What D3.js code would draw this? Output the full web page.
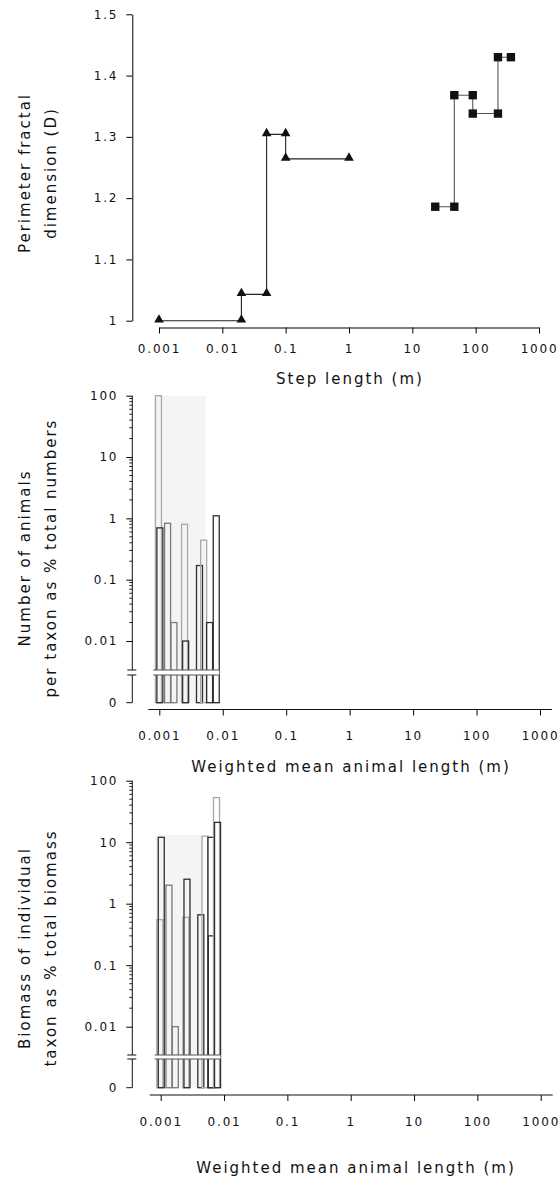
<!DOCTYPE html>
<html>
<head>
<meta charset="utf-8">
<script src="https://cdn.jsdelivr.net/npm/d3@7"></script>
<style>
body { margin: 0; background: #fff; }
text { font-family: "DejaVu Sans", sans-serif; fill: #111; }
.tick text { font-size: 12px; letter-spacing: 1.8px; }
.title { font-size: 15px; letter-spacing: 2px; }
</style>
</head>
<body>
<script>
// top panel: perimeter fractal dimension vs step length
var stepTri = [0.001, 0.02, 0.02, 0.05, 0.05, 0.1, 0.1, 1];
var dimTri = [1.0, 1.0, 1.043, 1.043, 1.304, 1.304, 1.264, 1.264];
var stepSq = [23, 46, 46, 90, 90, 225, 225, 360];
var dimSq = [1.186, 1.186, 1.368, 1.368, 1.338, 1.338, 1.43, 1.43];

// taxa: weighted mean length (m), % of numbers, % of biomass, shade group
var taxonLength = [0.00097, 0.00102, 0.00135, 0.0017, 0.0025, 0.0026, 0.0043, 0.0050, 0.0062, 0.0063, 0.0076, 0.0079];
var pctNumbers = [100, 0.7, 0.83, 0.02, 0.8, 0.01, 0.17, 0.44, 0.02, 0, 0, 1.1];
var pctBiomass = [0.55, 12, 2, 0.01, 0.6, 2.5, 0.66, 12.5, 12, 0.3, 53, 21];
var taxonGroup = ["light", "dark", "mid", "mid", "light", "dark", "dark", "light", "dark", "dark", "light", "dark"];

var xTicks = [0.001, 0.01, 0.1, 1, 10, 100, 1000];
var dimTicks = [1, 1.1, 1.2, 1.3, 1.4, 1.5];
var pctTicks = [0.01, 0.1, 1, 10, 100];

var width = 560, height = 1179;
var axisX = 132.3;
var barWidth = 6;

var shade = d3.scaleOrdinal()
    .domain(["light", "mid", "dark"])
    .range(["#a8a8a8", "#7a7a7a", "#2e2e2e"]);

var svg = d3.select("body").append("svg")
    .attr("width", width)
    .attr("height", height);

var fmt = d3.format("~g");

function yTitle(lines, cy) {
    lines.forEach(function(t, i) {
        svg.append("text")
            .attr("class", "title")
            .attr("transform", "translate(" + (30 + i * 26) + "," + cy + ") rotate(-90)")
            .attr("text-anchor", "middle")
            .text(t);
    });
}

function xTitle(t, cx, y) {
    svg.append("text")
        .attr("class", "title")
        .attr("x", cx)
        .attr("y", y)
        .attr("text-anchor", "middle")
        .text(t);
}

// ---------- panel 1 ----------
var x1 = d3.scaleLog().domain([0.001, 1000]).range([159, 539]);
var y1 = d3.scaleLinear().domain([1, 1.5]).range([320.7, 14.3]);

svg.append("g")
    .attr("transform", "translate(" + axisX + ",0)")
    .call(d3.axisLeft(y1).tickValues(dimTicks).tickSize(6).tickPadding(8).tickSizeOuter(0)
        .tickFormat(function(d) { return d === 1 ? "1" : d.toFixed(1); }));

svg.append("g")
    .attr("transform", "translate(0,327.5)")
    .call(d3.axisBottom(x1).tickValues(xTicks).tickFormat(fmt).tickSize(6).tickPadding(11).tickSizeOuter(0));

var triPts = stepTri.map(function(s, i) { return [s, dimTri[i]]; });
var sqPts = stepSq.map(function(s, i) { return [s, dimSq[i]]; });

var line1 = d3.line()
    .x(function(d) { return x1(d[0]); })
    .y(function(d) { return y1(d[1]); });

svg.append("path").attr("d", line1(triPts))
    .attr("fill", "none").attr("stroke", "#222").attr("stroke-width", 1.1);
svg.append("path").attr("d", line1(sqPts))
    .attr("fill", "none").attr("stroke", "#555").attr("stroke-width", 1.1);

svg.selectAll(".tri").data(triPts).enter().append("path")
    .attr("class", "tri")
    .attr("transform", function(d) { return "translate(" + x1(d[0]) + "," + (y1(d[1]) - 1) + ")"; })
    .attr("d", d3.symbol(d3.symbolTriangle, 40))
    .attr("fill", "#111");

svg.selectAll(".sq").data(sqPts).enter().append("path")
    .attr("class", "sq")
    .attr("transform", function(d) { return "translate(" + x1(d[0]) + "," + y1(d[1]) + ")"; })
    .attr("d", d3.symbol(d3.symbolSquare, 70))
    .attr("fill", "#111");

yTitle(["Perimeter fractal", "dimension (D)"], 173);
xTitle("Step length (m)", 350, 384);

// ---------- bar panels ----------
function barPanel(cfg, values) {
    var x = d3.scaleLog().domain([0.001, 1000]).range(cfg.xRange);
    var y = d3.scaleLog().domain([0.01, 100]).range([cfg.y001, cfg.yTop]);
    var yv = function(v) { return v > 0 ? y(v) : cfg.yZero; };

    // faint shaded block behind bars
    svg.append("rect")
        .attr("x", x(cfg.shadeX[0]))
        .attr("y", y(cfg.shadeTop))
        .attr("width", x(cfg.shadeX[1]) - x(cfg.shadeX[0]))
        .attr("height", cfg.yZero - y(cfg.shadeTop))
        .attr("fill", "#f4f4f4");

    var g = svg.append("g");
    g.selectAll("rect").data(taxonLength).enter().append("rect")
        .attr("x", function(d) { return x(d) - barWidth / 2; })
        .attr("y", function(d, i) { return yv(values[i]); })
        .attr("width", barWidth)
        .attr("height", function(d, i) { return cfg.yZero - yv(values[i]); })
        .attr("fill", "none")
        .attr("stroke", function(d, i) { return shade(taxonGroup[i]); })
        .attr("stroke-width", 1.3);

    // y axis, log part
    var ya = svg.append("g")
        .attr("transform", "translate(" + axisX + ",0)")
        .call(d3.axisLeft(y).tickValues(pctTicks).tickFormat(fmt).tickSize(6).tickPadding(8));
    ya.select(".domain").remove();

    var minor = [];
    pctTicks.slice(0, 4).forEach(function(d) {
        for (var k = 2; k <= 9; k++) minor.push(d * k);
    });
    ya.selectAll(".minor").data(minor).enter().append("line")
        .attr("class", "minor")
        .attr("x1", -3).attr("x2", 0)
        .attr("y1", function(d) { return y(d); })
        .attr("y2", function(d) { return y(d); })
        .attr("stroke", "#222");

    ya.append("line").attr("x1", 0).attr("x2", 0)
        .attr("y1", cfg.yTop).attr("y2", cfg.brk[0]).attr("stroke", "#111");
    ya.append("line").attr("x1", 0).attr("x2", 0)
        .attr("y1", cfg.brk[1]).attr("y2", cfg.yZero).attr("stroke", "#111");
    ya.append("line").attr("x1", -6).attr("x2", 0)
        .attr("y1", cfg.yZero).attr("y2", cfg.yZero).attr("stroke", "#111");
    ya.append("text")
        .attr("x", -14).attr("y", cfg.yZero).attr("dy", "0.32em")
        .attr("text-anchor", "end")
        .style("font-size", "12px").style("letter-spacing", "1.8px")
        .text("0");

    // axis break
    cfg.brk.forEach(function(b) {
        ya.append("line").attr("x1", -5).attr("x2", 4)
            .attr("y1", b).attr("y2", b).attr("stroke", "#111");
    });
    svg.append("rect")
        .attr("x", x(cfg.shadeX[0]) - 1)
        .attr("y", cfg.brk[0])
        .attr("width", x(0.0088) - x(cfg.shadeX[0]) + 1)
        .attr("height", cfg.brk[1] - cfg.brk[0])
        .attr("fill", "#fff");
    cfg.brk.forEach(function(b) {
        svg.append("line")
            .attr("x1", x(cfg.shadeX[0]) - 1).attr("x2", x(0.0088))
            .attr("y1", b).attr("y2", b)
            .attr("stroke", "#555").attr("stroke-width", 1.1);
    });

    // x axis
    var xa = svg.append("g")
        .attr("transform", "translate(0," + cfg.axisY + ")")
        .call(d3.axisBottom(x).tickValues(xTicks).tickFormat(fmt).tickSize(6).tickPadding(cfg.pad).tickSizeOuter(0));
    xa.select(".domain").remove();
    xa.append("line")
        .attr("x1", cfg.xRange[0] - 11).attr("x2", cfg.xRange[1] + 12)
        .attr("stroke", "#111");

    yTitle(cfg.titles, cfg.titleY);
    xTitle("Weighted mean animal length (m)", cfg.xTitle[0], cfg.xTitle[1]);
}

barPanel({
    xRange: [159.3, 540], yTop: 395.7, y001: 641, yZero: 702.7,
    brk: [670, 675], axisY: 709.5, pad: 16,
    shadeX: [0.00083, 0.0054], shadeTop: 100,
    titles: ["Number of animals", "per taxon as % total numbers"], titleY: 558,
    xTitle: [351, 772]
}, pctNumbers);

barPanel({
    xRange: [160.7, 540.7], yTop: 780.7, y001: 1026.7, yZero: 1087.7,
    brk: [1055, 1059], axisY: 1095, pad: 16,
    shadeX: [0.00083, 0.0047], shadeTop: 13,
    titles: ["Biomass of individual", "taxon as % total biomass"], titleY: 948,
    xTitle: [356, 1173]
}, pctBiomass);
</script>
</body>
</html>
